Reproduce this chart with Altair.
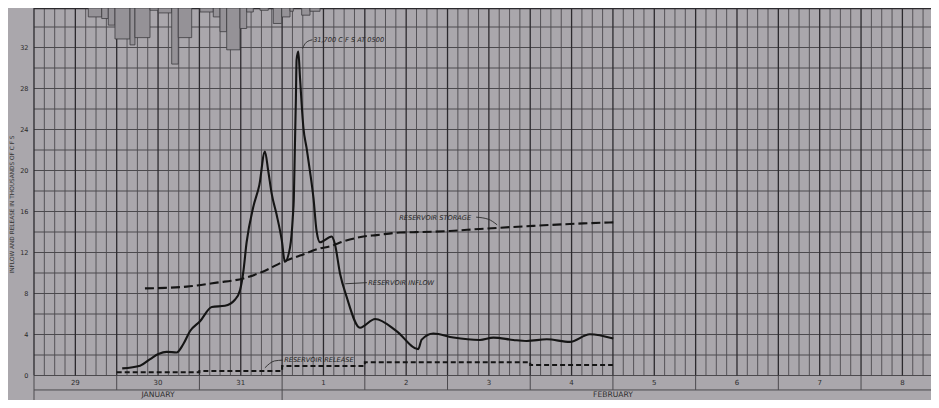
import altair as alt
import pandas as pd

# ---------------- data (hours from 00:00 Jan 29; flow in thousands of cfs) -------------
inflow_hours = [25.6, 30.8, 33.7, 36.1, 38.5, 41.4, 43.3, 45.3, 48.2, 51.6, 55.4, 58.3,
                59.8, 60.7, 61.7, 63.6, 65.4, 67.0, 68.0, 69.0, 70.4, 71.9, 72.8, 74.3,
                75.1, 75.4, 75.7, 76.0, 76.2, 76.7, 77.2, 78.2, 79.1, 80.1, 81.1, 82.0,
                83.0, 86.4, 87.3, 88.8, 90.7, 94.6, 99.0, 105.2, 111.5, 112.5, 115.9,
                121.7, 129.4, 133.3, 139.1, 143.0, 148.8, 155.5, 161.3, 168.1]
inflow_values = [0.70, 0.96, 1.6, 2.09, 2.31, 2.25, 3.05, 4.34, 5.3, 6.68, 6.8, 7.39,
                 8.35, 10.0, 13.0, 16.4, 18.6, 21.85, 19.9, 17.7, 15.7, 13.2, 11.1, 12.5,
                 15.4, 17.3, 22.2, 27.0, 30.8, 31.6, 29.0, 24.1, 22.2, 19.9, 17.3, 14.1,
                 13.0, 13.56, 12.85, 9.96, 7.7, 4.66, 5.52, 4.34, 2.57, 3.5, 4.1,
                 3.7, 3.47, 3.7, 3.47, 3.37, 3.53, 3.28, 4.02, 3.6]

storage_hours = [32.2, 38.0, 44.3, 53.0, 60.7, 67.5, 72.3, 77.2, 83.0, 85.9, 90.0, 95.6,
                 99.4, 106.2, 110.0, 120.7, 129.4, 134.3, 144.9, 159.4, 168.1]
storage_values = [8.5, 8.55, 8.67, 9.06, 9.47, 10.3, 11.1, 11.7, 12.4, 12.6, 13.1, 13.56,
                  13.7, 13.95, 13.98, 14.1, 14.3, 14.4, 14.6, 14.84, 14.94]

release_hours = [24, 48, 72, 96, 144, 168]
release_values = [0.32, 0.45, 0.93, 1.29, 1.03, 1.03]

rain_start = [15.76, 19.65, 21.56, 23.5, 27.86, 29.3, 33.66, 36.07, 39.96, 41.87,
              48.17, 52.03, 53.98, 55.92, 59.78, 61.72,
              65.58, 69.44, 71.88, 74.29, 77.68, 80.09]
rain_end = [19.65, 21.56, 23.5, 27.86, 29.3, 33.66, 36.07, 39.96, 41.87, 45.76,
            52.03, 53.98, 55.92, 59.78, 61.72, 63.64,
            67.99, 71.88, 74.29, 75.25, 80.09, 83.0]
rain_depth = [0.87, 1.03, 1.67, 3.02, 3.60, 2.89, 0.22, 0.48, 5.47, 2.89,
              0.39, 0.87, 2.31, 4.08, 2.0, 0.39,
              0.22, 1.51, 0.87, 0.32, 0.70, 0.32]

day_labels = ["29", "30", "31", "1", "2", "3", "4", "5", "6", "7", "8"]
month_labels = ["JANUARY", "FEBRUARY"]
month_start = [0, 72]
month_end = [72, 264]
y_ticks = [0, 4, 8, 12, 16, 20, 24, 28, 32]

ann_text = ["31,700  C F S  AT 0500", "RESERVOIR  STORAGE", "RESERVOIR  INFLOW", "RESERVOIR  RELEASE"]
ann_h = [81.0, 106.0, 97.0, 72.6]
ann_v = [32.7, 15.4, 9.06, 1.47]
lead_id = ["a", "a", "a", "b", "b", "b", "c", "c", "d", "d", "d"]
lead_h = [77.9, 79.0, 80.8, 128.3, 131.8, 134.4, 90.3, 96.6, 72.2, 69.8, 67.0]
lead_v = [31.9, 32.5, 32.75, 15.45, 15.25, 14.7, 8.95, 9.06, 1.5, 1.42, 0.75]

# ---------------- layout ----------------
W, H = 897, 392
X_MAX = 260.3
Y_TOP = 35.855
Y_MIN = -2.39
DAY_ROW = -1.41
PAPER = "#aaa7ac"
GRID = "#4c4a4e"
GRID_STRONG = "#2c2a2e"
INK = "#151515"

xs = alt.Scale(domain=[0, X_MAX], nice=False, zero=False)
ys = alt.Scale(domain=[Y_MIN, Y_TOP], nice=False, zero=False)

yaxis = alt.Axis(values=y_ticks, grid=False, domain=False, ticks=False,
                 labelFontSize=6.5, labelColor="#2a2a2a", labelPadding=6,
                 labelFont="DejaVu Sans",
                 title="INFLOW AND RELEASE IN THOUSANDS OF C F S",
                 titleFontSize=5.8, titleFontWeight="normal", titleColor="#333333",
                 titleFont="DejaVu Sans", titlePadding=5)


def X(f):
    return alt.X(f, type="quantitative", scale=xs, axis=None)


def Y(f):
    return alt.Y(f, type="quantitative", scale=ys, axis=yaxis)


# grid
hgrid = pd.DataFrame({"v": [v for v in range(0, 36, 2)]})
hgrid["h"] = 0.0
hgrid["h2"] = X_MAX
vgrid = pd.DataFrame({"h": [h for h in range(0, 261, 3)]})
vgrid["strong"] = vgrid["h"] % 12 == 0
vgrid["v"] = 0.0
vgrid["v2"] = Y_TOP

hg = alt.Chart(hgrid).mark_rule(color=GRID, strokeWidth=1).encode(
    x=X("h"), x2="h2", y=Y("v"))
top_border = alt.Chart(pd.DataFrame({"v": [Y_TOP - 0.05], "h": [0.0], "h2": [X_MAX]})).mark_rule(
    color=GRID_STRONG, strokeWidth=1.5).encode(x=X("h"), x2="h2", y=Y("v"))
vg = alt.Chart(vgrid).mark_rule().encode(
    x=X("h"), y=Y("v"), y2="v2",
    color=alt.condition("datum.strong", alt.value(GRID_STRONG), alt.value(GRID)),
    strokeWidth=alt.condition("datum.strong", alt.value(1.3), alt.value(0.9)))

# bottom rows
day_df = pd.DataFrame({"label": day_labels})
day_df["h"] = [12 + 24 * i for i in range(len(day_labels))]
day_df["v"] = DAY_ROW / 2
sep_df = pd.DataFrame({"h": [24 * i for i in range(len(day_labels))]})
sep_df["v"] = DAY_ROW
sep_df["v2"] = 0.0
month_df = pd.DataFrame({"label": month_labels, "h0": month_start, "h1": month_end})
month_df["h"] = (month_df["h0"] + month_df["h1"]) / 2
month_df["v"] = (DAY_ROW + Y_MIN) / 2 + 0.03
msep_df = pd.DataFrame({"h": month_start})
msep_df["v"] = Y_MIN
msep_df["v2"] = DAY_ROW
row_line = pd.DataFrame({"v": [DAY_ROW], "h": [0.0], "h2": [X_MAX]})

day_sep = alt.Chart(sep_df).mark_rule(color=GRID, strokeWidth=1).encode(
    x=X("h"), y=Y("v"), y2="v2")
month_sep = alt.Chart(msep_df).mark_rule(color=GRID, strokeWidth=1).encode(
    x=X("h"), y=Y("v"), y2="v2")
row_rule = alt.Chart(row_line).mark_rule(color=GRID, strokeWidth=1).encode(
    x=X("h"), x2="h2", y=Y("v"))
day_text = alt.Chart(day_df).mark_text(fontSize=7, font="DejaVu Sans", color="#2e2e2e",
                                       baseline="middle").encode(
    x=X("h"), y=Y("v"), text="label")
month_text = alt.Chart(month_df).mark_text(fontSize=7.6, font="DejaVu Sans", color="#2e2e2e",
                                           baseline="middle").encode(
    x=X("h"), y=Y("v"), text="label")

# rainfall bars hanging from the top
rain_df = pd.DataFrame({"h": rain_start, "h2": rain_end, "d": rain_depth})
rain = alt.Chart(rain_df).transform_calculate(
    bot=f"{Y_TOP} - datum.d", top=f"{Y_TOP}").mark_rect(
    fill="#959297", stroke="#3e3c40", strokeWidth=0.8).encode(
    x=X("h"), x2="h2", y=Y("bot:Q"), y2="top:Q")

# series
inflow = alt.Chart(pd.DataFrame({"h": inflow_hours, "v": inflow_values})).mark_line(
    color=INK, strokeWidth=2.1, interpolate="monotone").encode(x=X("h"), y=Y("v"))
storage = alt.Chart(pd.DataFrame({"h": storage_hours, "v": storage_values})).mark_line(
    color=INK, strokeWidth=2.1, strokeDash=[9, 4], interpolate="monotone").encode(x=X("h"), y=Y("v"))
release = alt.Chart(pd.DataFrame({"h": release_hours, "v": release_values})).mark_line(
    color=INK, strokeWidth=2.0, strokeDash=[5, 3], interpolate="step-after").encode(x=X("h"), y=Y("v"))

# annotations
lead = alt.Chart(pd.DataFrame({"g": lead_id, "h": lead_h, "v": lead_v, "o": list(range(len(lead_h)))})).mark_line(
    color="#2a2a2a", strokeWidth=0.9, interpolate="monotone").encode(
    x=X("h"), y=Y("v"), detail="g:N", order="o:Q")
ann = alt.Chart(pd.DataFrame({"t": ann_text, "h": ann_h, "v": ann_v})).mark_text(
    align="left", baseline="middle", fontSize=6.6, fontStyle="italic", font="DejaVu Sans",
    color="#262626").encode(x=X("h"), y=Y("v"), text="t")

chart = alt.layer(
    hg, vg, top_border, day_sep, month_sep, row_rule, rain, release, storage, inflow,
    lead, ann, day_text, month_text
).properties(
    width=W, height=H,
    padding={"left": 26, "top": 0, "right": 0, "bottom": 0},
    autosize=alt.AutoSizeParams(type="none"),
    background=PAPER,
).configure_view(stroke=None, fill=PAPER)

chart.save("out.html", embed_options={"renderer": "svg", "actions": False})
